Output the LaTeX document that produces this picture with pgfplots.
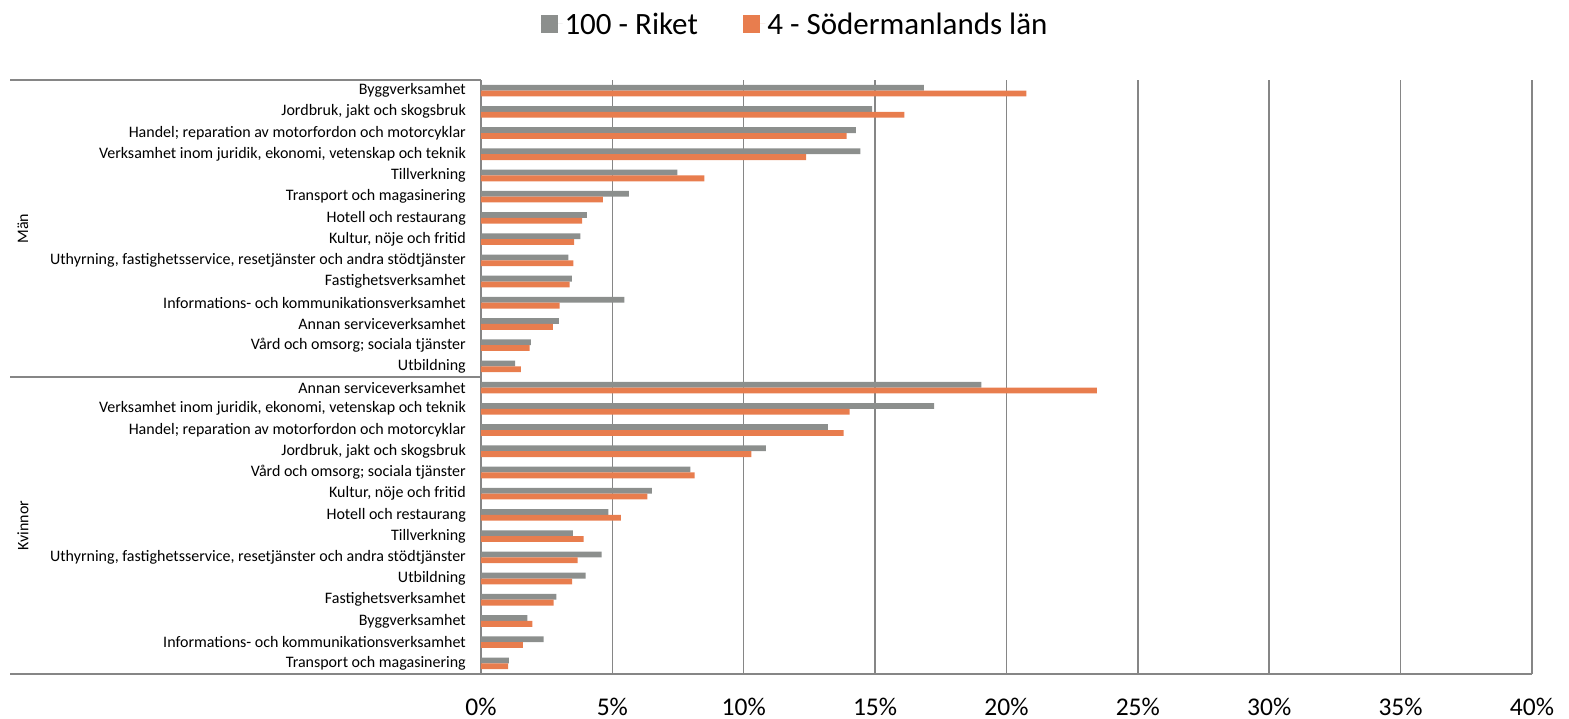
\documentclass[border=0pt]{standalone}
\usepackage{fontspec}
\setmainfont{Carlito}
\usepackage{pgfplots}
\pgfplotsset{compat=1.18}
\usepackage{pgfplotstable}
\usetikzlibrary{calc}
\definecolor{riket}{RGB}{140,143,141}
\definecolor{sodm}{RGB}{232,125,78}
\definecolor{gridc}{RGB}{134,134,134}
\pgfplotstableread{
y riket sodm
1 1.06 1.03
2 2.38 1.59
3 1.77 1.96
4 2.87 2.76
5 3.98 3.47
6 4.59 3.68
7 3.50 3.91
8 4.85 5.32
9 6.50 6.33
10 7.97 8.13
11 10.84 10.29
12 13.20 13.80
13 17.25 14.03
14 19.04 23.44
15 1.30 1.52
16 1.90 1.85
17 2.96 2.74
18 5.46 2.99
19 3.46 3.37
20 3.33 3.52
21 3.78 3.54
22 4.03 3.85
23 5.63 4.64
24 7.47 8.50
25 14.44 12.37
26 14.27 13.92
27 14.89 16.11
28 16.86 20.76
}\data
\begin{document}
\begin{tikzpicture}
\path[use as bounding box] (-481pt,-45pt) rectangle (1088pt,674pt);
\begin{axis}[
  at={(0,0)}, anchor=south west,
  scale only axis, width=1051pt, height=594pt,
  xmin=0, xmax=40, ymin=0.5, ymax=28.5,
  xbar=0pt, bar width=5.8pt,
  clip=false,
  axis x line*=bottom, axis y line*=left,
  axis line style={gridc, line width=1.5pt, -},
  xmajorgrids, grid style={gridc, line width=1.5pt},
  major tick length=0pt,
  xtick={0,5,...,40},
  xticklabel={\pgfmathprintnumber{\tick}\%},
  /pgf/number format/assume math mode=true,
  xticklabel style={font=\fontsize{25.5}{25.5}\selectfont, anchor=base, inner sep=0pt, yshift=-41.5pt},
  ytick={1,...,28},
  yticklabels={
    {Transport och magasinering},
    {Informations- och kommunikationsverksamhet},
    {Byggverksamhet},
    {Fastighetsverksamhet},
    {Utbildning},
    {Uthyrning, fastighetsservice, resetjänster och andra stödtjänster},
    {Tillverkning},
    {Hotell och restaurang},
    {Kultur, nöje och fritid},
    {Vård och omsorg; sociala tjänster},
    {Jordbruk, jakt och skogsbruk},
    {Handel; reparation av motorfordon och motorcyklar},
    {Verksamhet inom juridik, ekonomi, vetenskap och teknik},
    {Annan serviceverksamhet},
    {Utbildning},
    {Vård och omsorg; sociala tjänster},
    {Annan serviceverksamhet},
    {Informations- och kommunikationsverksamhet},
    {Fastighetsverksamhet},
    {Uthyrning, fastighetsservice, resetjänster och andra stödtjänster},
    {Kultur, nöje och fritid},
    {Hotell och restaurang},
    {Transport och magasinering},
    {Tillverkning},
    {Verksamhet inom juridik, ekonomi, vetenskap och teknik},
    {Handel; reparation av motorfordon och motorcyklar},
    {Jordbruk, jakt och skogsbruk},
    {Byggverksamhet}},
  yticklabel style={font=\fontsize{16}{16}\selectfont, anchor=east, inner sep=0pt, xshift=-15pt},
  legend style={at={(axis description cs:0.2988,1)}, anchor=center, yshift=56pt,
    draw=none, fill=none, font=\fontsize{31}{31}\selectfont,
    /tikz/every even column/.append style={column sep=43pt}},
  legend columns=2,
]
\addplot[fill=riket, draw=none, bar shift=2.9pt,
  legend image code/.code={\fill[riket] (0pt,-8.7pt) rectangle (17.5pt,8.7pt); \path (0pt,0pt) -- (22pt,0pt);}]
  table[x=riket, y=y] {\data};
\addlegendentry{100 - Riket}
\addplot[fill=sodm, draw=none, bar shift=-2.9pt,
  legend image code/.code={\fill[sodm] (0pt,-8.7pt) rectangle (17.5pt,8.7pt); \path (0pt,0pt) -- (22.5pt,0pt);}]
  table[x=sodm, y=y] {\data};
\addlegendentry{4 - Södermanlands län}
\draw[gridc, line width=1.5pt] (axis cs:0,28.5) -- ++(-471pt,0pt);
\draw[gridc, line width=1.5pt] (axis cs:0,14.5) -- ++(-471pt,0pt);
\draw[gridc, line width=1.5pt] (axis cs:0,0.5) -- ++(-471pt,0pt);
\node[rotate=90, font=\fontsize{16}{16}\selectfont] at ($(axis cs:0,21.5)+(-458pt,0pt)$) {Män};
\node[rotate=90, font=\fontsize{16}{16}\selectfont] at ($(axis cs:0,7.5)+(-458pt,0pt)$) {Kvinnor};
\end{axis}
\end{tikzpicture}
\end{document}
